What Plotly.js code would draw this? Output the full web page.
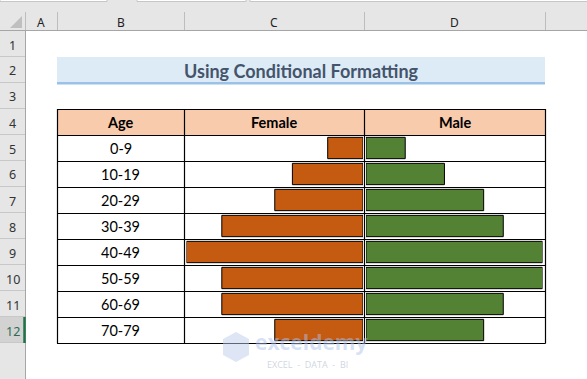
<!DOCTYPE html>
<html><head><meta charset="utf-8">
<script src="https://cdn.plot.ly/plotly-3.0.1.min.js"></script>
<style>html,body{margin:0;padding:0;background:#fff}#c{width:587px;height:379px}</style>
</head><body><div id="c"></div>
<script>
// ---- data ----
const ages = ["0-9","10-19","20-29","30-39","40-49","50-59","60-69","70-79"];
const female = [2,4,5,8,10,8,8,5];
const male = [2,4,6,7,9,9,7,6];
const headers = ["Age","Female","Male"];
const colLetters = ["A","B","C","D"];
const rowNumbers = ["1","2","3","4","5","6","7","8","9","10","11","12"];
const title = "Using Conditional Formatting";

// ---- geometry helpers (pixel -> paper) ----
const W = 587, H = 379;
const X = p => p / W, Y = p => 1 - p / H;
const shapes = [];
function rect(x0,y0,x1,y1,fill,lc,lw,layer){
  shapes.push({type:'rect',xref:'paper',yref:'paper',x0:X(x0),x1:X(x1),y0:Y(y1),y1:Y(y0),
    fillcolor:fill,line:{color:lc||'rgba(0,0,0,0)',width:lw||0},layer:layer||'below'});
}
function line(x0,y0,x1,y1,c,w,layer){
  shapes.push({type:'line',xref:'paper',yref:'paper',x0:X(x0),x1:X(x1),y0:Y(y0),y1:Y(y1),
    line:{color:c,width:w},layer:layer||'below'});
}
// Excel chrome
rect(0,0,587,31,'#E6E6E6');
rect(0,31,25,379,'#E6E6E6');
rect(0,317,25,343,'#D2D2D2');
rect(0,-2,107,1.5,'#FFFFFF','#C6C6C6',1);
rect(137,-2,246,1.5,'#FFFFFF','#C6C6C6',1);
rect(250,-2,590,1.5,'#FFFFFF','#C6C6C6',1);
line(0,30.5,587,30.5,'#A6A6A6',1);
line(25.5,31,25.5,379,'#A6A6A6',1);
[25.5,57.5,184.5,364.5,545.5].forEach(x=>line(x,12,x,30,'#BDBDBD',1));
for(let i=1;i<=12;i++){ line(0,31+26*i-0.5,25,31+26*i-0.5,'#C8C8C8',1); }
line(24.5,317,24.5,343,'#217346',2.5);
shapes.push({type:'path',xref:'paper',yref:'paper',
  path:`M ${X(22)},${Y(16)} L ${X(22)},${Y(28)} L ${X(10)},${Y(28)} Z`,
  fillcolor:'#BFBFBF',line:{width:0},layer:'below'});
// title cell
rect(57,57,545,82,'#DDEBF7');
rect(57,82,545,84.5,'#9BC2E6');
// header fill
rect(57,109,545,135,'#F8CBAD');
// table borders
for(let i=0;i<=9;i++){ const y=109.5+26*i; line(57,y,545.5,y,'#000000',1.2); }
[57.5,184.5,364.5,545.5].forEach(x=>line(x,109,x,343.5,'#000000',1.2));

// ---- annotations ----
const ann = [];
const colCenters = [41,120.5,274,454.5];
colLetters.forEach((t,i)=>ann.push({xref:'paper',yref:'paper',x:X(colCenters[i]),y:Y(22),text:t,showarrow:false,
  font:{family:'Noto Sans, DejaVu Sans',size:12,color:'#222'},xanchor:'center',yanchor:'middle'}));
rowNumbers.forEach((t,i)=>ann.push({xref:'paper',yref:'paper',x:X(12.5),y:Y(44+26*i+1),text:t,showarrow:false,
  font:{family:'Noto Sans, DejaVu Sans',size:12.5,color:i===11?'#2E6B50':'#333'},xanchor:'center',yanchor:'middle'}));
ann.push({xref:'paper',yref:'paper',x:X(301),y:Y(71),text:'<b>'+title+'</b>',showarrow:false,
  font:{family:'Lato, Open Sans',size:18,color:'#44546A'},xanchor:'center',yanchor:'middle'});
const hdrCenters=[120.5,274,454.5];
headers.forEach((t,i)=>ann.push({xref:'paper',yref:'paper',x:X(hdrCenters[i]),y:Y(122.5),text:'<b>'+t+'</b>',showarrow:false,
  font:{family:'Lato, Open Sans',size:14.5,color:'#000'},xanchor:'center',yanchor:'middle'}));
ages.forEach(a=>ann.push({xref:'paper',yref:'y',x:X(120.5),y:a,text:a,showarrow:false,
  font:{family:'Lato, Open Sans',size:14.5,color:'#000'},xanchor:'center',yanchor:'middle'}));
// watermark
ann.push({xref:'paper',yref:'paper',x:X(253),y:Y(342),text:'<b>exceldemy</b>',showarrow:false,
  font:{family:'Open Sans, DejaVu Sans',size:21,color:'rgba(175,195,235,0.5)'},xanchor:'left',yanchor:'middle'});
ann.push({xref:'paper',yref:'paper',x:X(265),y:Y(364),text:'EXCEL  -  DATA  -  BI',showarrow:false,
  font:{family:'Open Sans, DejaVu Sans',size:9,color:'rgba(175,185,205,0.6)'},xanchor:'left',yanchor:'middle'});
shapes.push({type:'path',xref:'paper',yref:'paper',
  path:`M ${X(236)},${Y(332)} L ${X(249)},${Y(339)} L ${X(249)},${Y(355)} L ${X(236)},${Y(362)} L ${X(223)},${Y(355)} L ${X(223)},${Y(339)} Z`,
  fillcolor:'rgba(190,205,235,0.5)',line:{width:0},layer:'above'});

// ---- traces ----
const traces = [
  {type:'bar',orientation:'h',y:ages,x:female,xaxis:'x',yaxis:'y',width:0.82,
   marker:{color:'#C55A11',line:{color:'#000',width:1}},hoverinfo:'skip'},
  {type:'bar',orientation:'h',y:ages,x:male,xaxis:'x2',yaxis:'y',width:0.82,
   marker:{color:'#548235',line:{color:'#000',width:1}},hoverinfo:'skip'}
];
const ax = {showgrid:false,zeroline:false,showticklabels:false,ticks:'',showline:false,fixedrange:true};
const layout = {
  width:W,height:H,margin:{l:0,r:0,t:0,b:0},paper_bgcolor:'#FFFFFF',plot_bgcolor:'rgba(0,0,0,0)',
  showlegend:false,barmode:'overlay',
  xaxis:Object.assign({},ax,{domain:[X(186.5),X(363)],range:[Math.max(...female),0],anchor:'y'}),
  xaxis2:Object.assign({},ax,{domain:[X(366),X(542.5)],range:[0,Math.max(...male)],anchor:'y'}),
  yaxis:Object.assign({},ax,{domain:[Y(343),Y(135)],type:'category',categoryarray:ages,range:[ages.length-0.5,-0.5],anchor:'x'}),
  shapes:shapes,annotations:ann
};
Plotly.newPlot('c',traces,layout,{staticPlot:true,displayModeBar:false});
</script></body></html>
